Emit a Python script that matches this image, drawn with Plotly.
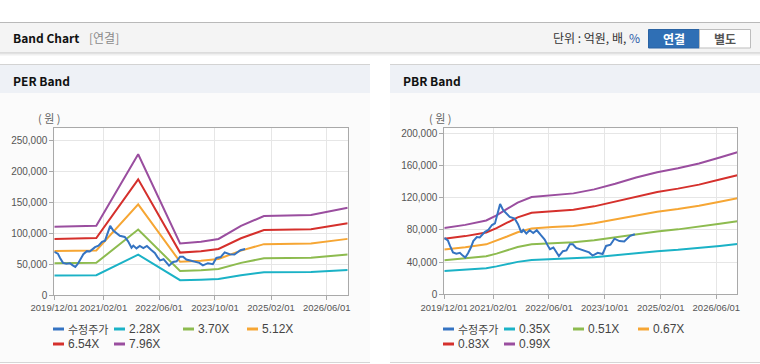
import plotly.graph_objects as go

W, H = 760, 364

# ---------------- data ----------------
tick_dates = ["2019-12-01", "2021-02-01", "2022-06-01", "2023-10-01", "2025-02-01", "2026-06-01"]
tick_labels = ["2019/12/01", "2021/02/01", "2022/06/01", "2023/10/01", "2025/02/01", "2026/06/01"]

price_dates = ["2019-12-01", "2020-01-01", "2020-01-20", "2020-02-15", "2020-03-15", "2020-04-15",
               "2020-05-10", "2020-06-01", "2020-06-25", "2020-07-20", "2020-08-10", "2020-09-10",
               "2020-10-05", "2020-10-25", "2020-11-20", "2020-12-20", "2021-01-20", "2021-02-15",
               "2021-03-01", "2021-04-01", "2021-04-28", "2021-05-25", "2021-06-24", "2021-08-06",
               "2021-09-04", "2021-10-04", "2021-10-20", "2021-11-16", "2021-12-15", "2022-01-15",
               "2022-02-15", "2022-03-25", "2022-04-25", "2022-05-20", "2022-06-10", "2022-07-10",
               "2022-08-27", "2022-10-01", "2022-11-01", "2022-12-01", "2022-12-27", "2023-01-25",
               "2023-02-24", "2023-04-06", "2023-05-18", "2023-06-18", "2023-08-01", "2023-09-13",
               "2023-10-13", "2023-11-20", "2023-12-25", "2024-02-06", "2024-03-19", "2024-05-10",
               "2024-06-20"]
price_values = [70000, 67000, 60000, 52000, 50500, 51500,
                48000, 45500, 51000, 58000, 66000, 71000,
                70500, 73500, 77500, 80000, 86000, 88000,
                96000, 112000, 104500, 101000, 96000, 94000,
                87000, 76500, 80000, 75500, 79500, 76000,
                79500, 73000, 68000, 61000, 56000, 58000,
                47500, 53500, 54500, 62000, 62000, 57500,
                56000, 54500, 52000, 48000, 51500, 50000,
                60000, 61500, 69000, 66000, 65500, 72500,
                74500]

per_dates = ["2019-12-01", "2020-12-01", "2021-12-01", "2022-12-01", "2023-06-01", "2023-11-01",
             "2024-05-15", "2024-12-01", "2026-01-15", "2026-12-01"]
per_228 = [31700, 32150, 65300, 23950, 24750, 26000, 32050, 36650, 37150, 40450]
per_370 = [51450, 52150, 106000, 38850, 40150, 42200, 52000, 59500, 60300, 65700]
per_512 = [71150, 72200, 146700, 53750, 55550, 58350, 71950, 82350, 83450, 90900]
per_654 = [90900, 92200, 187400, 68650, 70950, 74550, 91900, 105150, 106600, 116100]
per_796 = [110650, 112250, 228050, 83600, 86350, 90750, 111850, 128000, 129750, 141300]
per_names = ["2.28X", "3.70X", "5.12X", "6.54X", "7.96X"]

pbr_dates = ["2019-12-01", "2020-06-01", "2020-12-01", "2021-03-01", "2021-06-01", "2021-09-01",
             "2022-01-01", "2022-07-01", "2023-01-01", "2023-07-01", "2024-01-01", "2024-07-01",
             "2025-01-01", "2025-07-01", "2026-01-01", "2026-07-01", "2026-12-01"]
pbr_035 = [29050, 30450, 32375, 34650, 37450, 40250, 42700, 43575, 44275, 46025, 48475, 51275,
           53550, 55300, 57400, 60025, 62300]
pbr_051 = [42330, 44370, 47175, 50490, 54570, 58650, 62220, 63495, 64515, 67065, 70635, 74715,
           78030, 80580, 83640, 87465, 90780]
pbr_067 = [55610, 58290, 61975, 66330, 71690, 77050, 81740, 83415, 84755, 88105, 92795, 98155,
           102510, 105860, 109880, 114905, 119260]
pbr_083 = [68890, 72210, 76775, 82170, 88810, 95450, 101260, 103335, 104995, 109145, 114955, 121595,
           126990, 131140, 136120, 142345, 147740]
pbr_099 = [82170, 86130, 91575, 98010, 105930, 113850, 120780, 123255, 125235, 130185, 137115, 145035,
           151470, 156420, 162360, 169785, 176220]
pbr_names = ["0.35X", "0.51X", "0.67X", "0.83X", "0.99X"]

price_name = "수정주가"

# ---------------- style ----------------
C_PRICE = "#3473c2"
BAND_COLORS = ["#1bb2c6", "#8dbb4f", "#f6a634", "#d5302c", "#9a4e9f"]
KR = "Noto Sans CJK KR"
NUM = "Liberation Sans, Arial"


def X(px):
    return px / W


def Y(py):
    return 1 - py / H


fig = go.Figure()

per_bands = [per_228, per_370, per_512, per_654, per_796]
pbr_bands = [pbr_035, pbr_051, pbr_067, pbr_083, pbr_099]

for vals, nm, col in zip(per_bands, per_names, BAND_COLORS):
    fig.add_trace(go.Scatter(x=per_dates, y=vals, name=nm, mode="lines",
                             line=dict(color=col, width=2), xaxis="x", yaxis="y",
                             showlegend=False))
fig.add_trace(go.Scatter(x=price_dates, y=price_values, name=price_name, mode="lines",
                         line=dict(color=C_PRICE, width=2), xaxis="x", yaxis="y",
                         showlegend=False))

for vals, nm, col in zip(pbr_bands, pbr_names, BAND_COLORS):
    fig.add_trace(go.Scatter(x=pbr_dates, y=vals, name=nm, mode="lines",
                             line=dict(color=col, width=2), xaxis="x2", yaxis="y2",
                             showlegend=False))
fig.add_trace(go.Scatter(x=price_dates, y=price_values, name=price_name, mode="lines",
                         line=dict(color=C_PRICE, width=2), xaxis="x2", yaxis="y2",
                         showlegend=False))

axis_common = dict(showline=True, mirror=True, linecolor="#a9a9a9", linewidth=1,
                   showgrid=True, gridcolor="#e6e6e6", gridwidth=1,
                   ticks="outside", ticklen=4, tickcolor="#a9a9a9",
                   zeroline=False, fixedrange=True, automargin=False)

xcommon = dict(axis_common, type="date", range=["2019-12-01", "2026-12-01"],
               tickvals=tick_dates, ticktext=tick_labels, tickangle=0,
               tickfont=dict(family=NUM, size=9.5, color="#555555"))
ycommon = dict(axis_common, tickformat=",d",
               tickfont=dict(family=NUM, size=10, color="#555555"))

fig.update_layout(
    width=W, height=H, autosize=False,
    margin=dict(l=0, r=0, t=0, b=0, pad=0, autoexpand=False),
    paper_bgcolor="white", plot_bgcolor="white",
    showlegend=False,
    xaxis=dict(xcommon, domain=[X(54.3), X(347.7)], anchor="y"),
    yaxis=dict(ycommon, domain=[Y(295), Y(128.3)], anchor="x",
               range=[0, 270000], tickvals=[0, 50000, 100000, 150000, 200000, 250000]),
    xaxis2=dict(xcommon, domain=[X(444.3), X(737.3)], anchor="y2"),
    yaxis2=dict(ycommon, domain=[Y(294.3), Y(128.3)], anchor="x2",
                range=[0, 206000], tickvals=[0, 40000, 80000, 120000, 160000, 200000]),
)

shapes = []
ann = []


def rect(x0, y0, x1, y1, fill, line=None, layer="below"):
    shapes.append(dict(type="rect", xref="paper", yref="paper",
                       x0=X(x0), x1=X(x1), y0=Y(y1), y1=Y(y0),
                       fillcolor=fill, line=dict(width=1 if line else 0, color=line or fill),
                       layer=layer))


def hline(x0, x1, y, color, width=1, layer="below"):
    shapes.append(dict(type="line", xref="paper", yref="paper",
                       x0=X(x0), x1=X(x1), y0=Y(y), y1=Y(y),
                       line=dict(color=color, width=width), layer=layer))


def text(x, y, s, size=12, color="#333", family=KR, xanchor="left"):
    ann.append(dict(x=X(x), y=Y(y), xref="paper", yref="paper", text=s, showarrow=False,
                    xanchor=xanchor, yanchor="middle",
                    font=dict(family=family, size=size, color=color)))


# top header bar
rect(0, 22, 760, 53, "#f4f4f4")
hline(0, 760, 22.5, "#b9b9b9")
hline(0, 760, 53, "#c4c4c4")
hline(0, 760, 54, "#e2e2e2")
hline(0, 760, 55, "#f0f0f0")
text(11, 38, "<b>Band Chart</b>", size=12, color="#111")
text(87, 38, "[연결]", size=12, color="#8a8a8a")
text(642, 38, "단위 : 억원, 배, <span style='color:#2a5aa8'>%</span>", size=12,
     color="#333", xanchor="right")
# buttons
rect(648.5, 29.5, 699.5, 48, "#2f6fb5", line="#2a63a3", layer="above")
rect(699.5, 29.5, 750.5, 48, "#ffffff", line="#bdbdbd", layer="above")
text(674, 39, "<b>연결</b>", size=12, color="white", xanchor="center")
text(725, 39, "<b>별도</b>", size=12, color="#555", xanchor="center")

# panels
for px0, px1, title in [(0, 370, "PER Band"), (390, 760, "PBR Band")]:
    rect(px0, 93, px1, 362, "#fbfbfb")
    rect(px0, 64, px1, 93, "#eef1f6")
    hline(px0, px1, 64.5, "#d3d3d3")
    hline(px0, px1, 362.5, "#d6d6d6")
    text(px0 + 11, 80, "<b>" + title + "</b>", size=12, color="#111")

# plot area backgrounds (white)
rect(54.3, 128.3, 347.7, 295, "white")
rect(444.3, 128.3, 737.3, 294.3, "white")

# unit labels
text(49.5, 118, "( 원 )", size=11, color="#666", xanchor="center")
text(440, 118, "( 원 )", size=11, color="#666", xanchor="center")

# custom legends
legend_cols_per = [53, 114, 183, 247]
legend_cols_pbr = [443, 504, 573, 638]
for cols, names in [(legend_cols_per, per_names), (legend_cols_pbr, pbr_names)]:
    entries = [(price_name, C_PRICE)] + list(zip(names, BAND_COLORS))
    pos = [(cols[0], 329), (cols[1], 329), (cols[2], 329), (cols[3], 329),
           (cols[0], 344), (cols[1], 344)]
    for (nm, col), (lx, ly) in zip(entries, pos):
        shapes.append(dict(type="line", xref="paper", yref="paper",
                           x0=X(lx), x1=X(lx + 11), y0=Y(ly), y1=Y(ly),
                           line=dict(color=col, width=3), layer="above"))
        if nm == price_name:
            text(lx + 13, ly, nm, size=11, color="#444", family=KR)
        else:
            text(lx + 13, ly, nm, size=12, color="#444", family=NUM)

fig.update_layout(shapes=shapes, annotations=ann)

fig.write_html("out.html", config={"displayModeBar": False, "staticPlot": True},
               post_script="document.body.style.margin='0px';")
